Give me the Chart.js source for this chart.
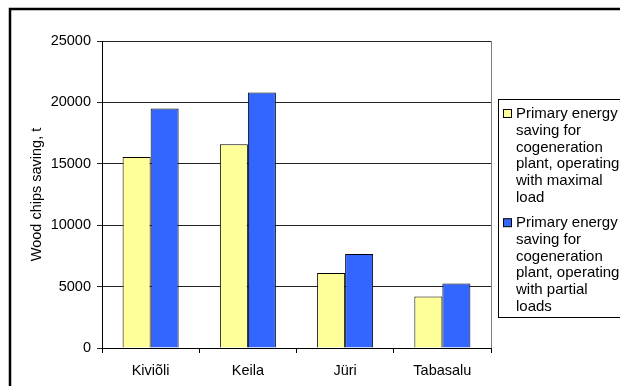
<!DOCTYPE html>
<html>
<head>
<meta charset="utf-8">
<script src="https://cdn.jsdelivr.net/npm/chart.js@4"></script>
<style>
  html, body { margin: 0; padding: 0; background: #fff; }
  #wrap { width: 620px; height: 386px; position: relative; }
</style>
</head>
<body>
<div id="wrap"><canvas id="chart" width="620" height="386"></canvas></div>
<script>
// values
var categories = ["Kiviõli", "Keila", "Jüri", "Tabasalu"];
var maxLoad = [15550, 16600, 6100, 4200];
var partialLoad = [19500, 20800, 7650, 5250];
var yTicks = [0, 5000, 10000, 15000, 20000, 25000];
var yTitle = "Wood chips saving, t";
var legendMax = ["Primary energy", "saving for", "cogeneration", "plant, operating", "with maximal", "load"];
var legendPartial = ["Primary energy", "saving for", "cogeneration", "plant, operating", "with partial", "loads"];

var FONT = "'Liberation Sans', Arial, sans-serif";

// outer frame + gray right edge of the plot area
var framePlugin = {
  id: "frame",
  afterDraw: function (chart) {
    var ctx = chart.ctx, a = chart.chartArea;
    ctx.save();
    ctx.strokeStyle = "#808080";
    ctx.lineWidth = 1;
    ctx.beginPath();
    ctx.moveTo(Math.round(a.right) + 0.5, a.top);
    ctx.lineTo(Math.round(a.right) + 0.5, a.bottom);
    ctx.stroke();
    ctx.strokeStyle = "#000";
    ctx.lineWidth = 2.5;
    ctx.strokeRect(10, 9, 700, 500);
    ctx.restore();
  }
};

// boxed legend with wrapped lines, like the original
var boxLegend = {
  id: "boxLegend",
  afterDraw: function (chart) {
    var ctx = chart.ctx;
    var x0 = 498.5, y0 = 99.5, w = 140, h = 218;
    var lh = 16.7, gap = 9;
    ctx.save();
    ctx.fillStyle = "#fff";
    ctx.fillRect(x0, y0, w, h);
    ctx.strokeStyle = "#000";
    ctx.lineWidth = 1;
    ctx.strokeRect(x0, y0, w, h);
    ctx.font = "15px " + FONT;
    ctx.textBaseline = "middle";
    var y = 114;
    chart.data.datasets.forEach(function (ds) {
      ctx.fillStyle = ds.backgroundColor;
      ctx.fillRect(503.5, y - 4.5, 8, 8);
      ctx.strokeStyle = "#000";
      ctx.strokeRect(503.5, y - 4.5, 8, 8);
      ctx.fillStyle = "#000";
      ds.legendLines.forEach(function (line, i) {
        ctx.fillText(line, 516, y + i * lh);
      });
      y += ds.legendLines.length * lh + gap;
    });
    ctx.restore();
  }
};

var ctx0 = document.getElementById("chart");
var myChart = new Chart(ctx0, {
  type: "bar",
  data: {
    labels: categories,
    datasets: [
      {
        label: legendMax.join(" "),
        legendLines: legendMax,
        data: maxLoad,
        backgroundColor: "#FFFF99",
        borderColor: "#000",
        borderWidth: 1
      },
      {
        label: legendPartial.join(" "),
        legendLines: legendPartial,
        data: partialLoad,
        backgroundColor: "#3366FF",
        borderColor: "#000",
        borderWidth: 1
      }
    ]
  },
  options: {
    responsive: false,
    animation: false,
    devicePixelRatio: 1,
    layout: { padding: { left: 0, top: 41, right: 129, bottom: 0 } },
    datasets: { bar: { categoryPercentage: 0.576, barPercentage: 1.0 } },
    plugins: {
      legend: { display: false },
      tooltip: { enabled: false }
    },
    scales: {
      x: {
        offset: true,
        grid: { display: true, offset: true, drawOnChartArea: false, drawTicks: true, tickLength: 5, color: "#000" },
        border: { display: true, color: "#000" },
        ticks: { color: "#000", padding: 9, font: { family: FONT, size: 14.5 } },
        afterFit: function (s) { s.height = 38; }
      },
      y: {
        min: 0,
        max: 25000,
        afterBuildTicks: function (s) { s.ticks = yTicks.map(function (v) { return { value: v }; }); },
        grid: { color: "#222", tickLength: 5 },
        border: { display: true, color: "#000" },
        ticks: {
          color: "#000",
          padding: 6,
          font: { family: FONT, size: 14.5 },
          callback: function (v) { return String(v); }
        },
        title: {
          display: true,
          text: yTitle,
          color: "#000",
          padding: { top: 28, bottom: 0 },
          font: { family: FONT, size: 14.5 }
        },
        afterFit: function (s) { s.width = 102; }
      }
    }
  },
  plugins: [framePlugin, boxLegend]
});
</script>
</body>
</html>
